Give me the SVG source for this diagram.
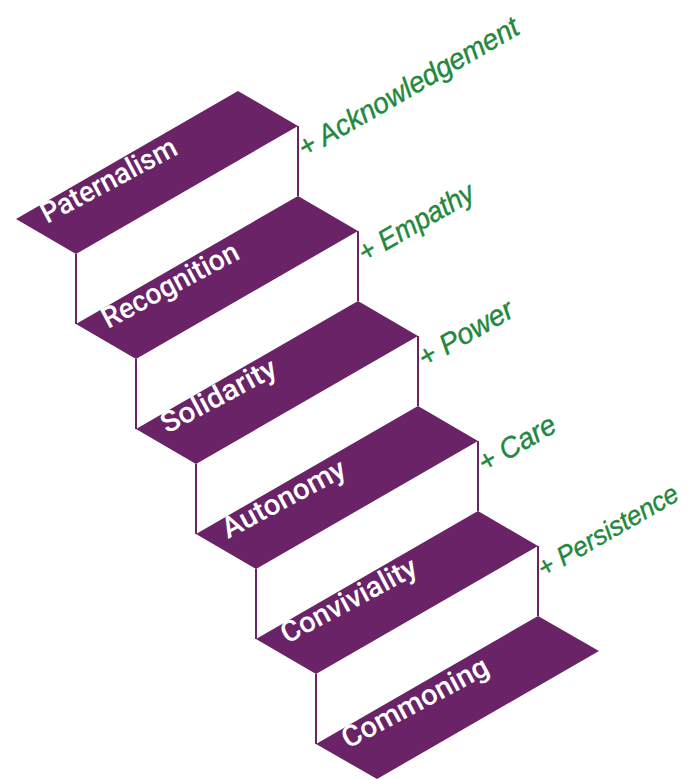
<svg xmlns="http://www.w3.org/2000/svg" width="695" height="780" viewBox="0 0 695 780">
  <style>
    .tread { fill: #692366; stroke: none; }
    .riser { stroke: #692366; stroke-width: 2; fill: none; }
    .step-label { font-family: Roboto, "Liberation Sans", sans-serif; font-size: 29px; font-weight: 500; fill: #ffffff; }
    .gain-label { font-family: "Liberation Sans", Arial, sans-serif; font-size: 29px; font-style: italic; fill: #23883d; stroke: #23883d; stroke-width: 0.4; }
  </style>
  <rect width="695" height="780" fill="#ffffff"/>
  <g id="connectors">
    <line class="riser" x1="298" y1="126" x2="298" y2="196"/>
    <line class="riser" x1="76" y1="254" x2="76" y2="324"/>
    <line class="riser" x1="358" y1="231" x2="358" y2="301"/>
    <line class="riser" x1="136" y1="359" x2="136" y2="429"/>
    <line class="riser" x1="418" y1="336" x2="418" y2="406"/>
    <line class="riser" x1="196" y1="464" x2="196" y2="534"/>
    <line class="riser" x1="478" y1="441" x2="478" y2="511"/>
    <line class="riser" x1="256" y1="569" x2="256" y2="639"/>
    <line class="riser" x1="538" y1="546" x2="538" y2="616"/>
    <line class="riser" x1="316" y1="674" x2="316" y2="744"/>
  </g>
  <g id="step-paternalism">
    <polygon class="tread" points="238,91 298,126 76,254 16,219"/>
    <text class="step-label" transform="translate(47 224) rotate(-28)" textLength="150" lengthAdjust="spacingAndGlyphs">Paternalism</text>
  </g>
  <g id="step-recognition">
    <polygon class="tread" points="298,196 358,231 136,359 76,324"/>
    <text class="step-label" transform="translate(108 329) rotate(-28)" textLength="151" lengthAdjust="spacingAndGlyphs">Recognition</text>
  </g>
  <g id="step-solidarity">
    <polygon class="tread" points="358,301 418,336 196,464 136,429"/>
    <text class="step-label" transform="translate(167 434) rotate(-28)" textLength="127" lengthAdjust="spacingAndGlyphs">Solidarity</text>
  </g>
  <g id="step-autonomy">
    <polygon class="tread" points="418,406 478,441 256,569 196,534"/>
    <text class="step-label" transform="translate(228 539) rotate(-28)" textLength="136" lengthAdjust="spacingAndGlyphs">Autonomy</text>
  </g>
  <g id="step-conviviality">
    <polygon class="tread" points="478,511 538,546 316,674 256,639"/>
    <text class="step-label" transform="translate(287 644) rotate(-28)" textLength="150" lengthAdjust="spacingAndGlyphs">Conviviality</text>
  </g>
  <g id="step-commoning">
    <polygon class="tread" points="538,616 599,651 377,779 316,744"/>
    <text class="step-label" transform="translate(348 749) rotate(-28)" textLength="162" lengthAdjust="spacingAndGlyphs">Commoning</text>
  </g>
  <g id="gain-acknowledgement">
    <text class="gain-label" transform="translate(305 158) rotate(-30)" textLength="250" lengthAdjust="spacingAndGlyphs">+ Acknowledgement</text>
  </g>
  <g id="gain-empathy">
    <text class="gain-label" transform="translate(365 263) rotate(-30)" textLength="129" lengthAdjust="spacingAndGlyphs">+ Empathy</text>
  </g>
  <g id="gain-power">
    <text class="gain-label" transform="translate(425 368) rotate(-30)" textLength="105" lengthAdjust="spacingAndGlyphs">+ Power</text>
  </g>
  <g id="gain-care">
    <text class="gain-label" transform="translate(485 473) rotate(-30)" textLength="85" lengthAdjust="spacingAndGlyphs">+ Care</text>
  </g>
  <g id="gain-persistence">
    <text class="gain-label" style="font-size:27px" transform="translate(544 578) rotate(-30)" textLength="158" lengthAdjust="spacingAndGlyphs">+ Persistence</text>
  </g>
</svg>
